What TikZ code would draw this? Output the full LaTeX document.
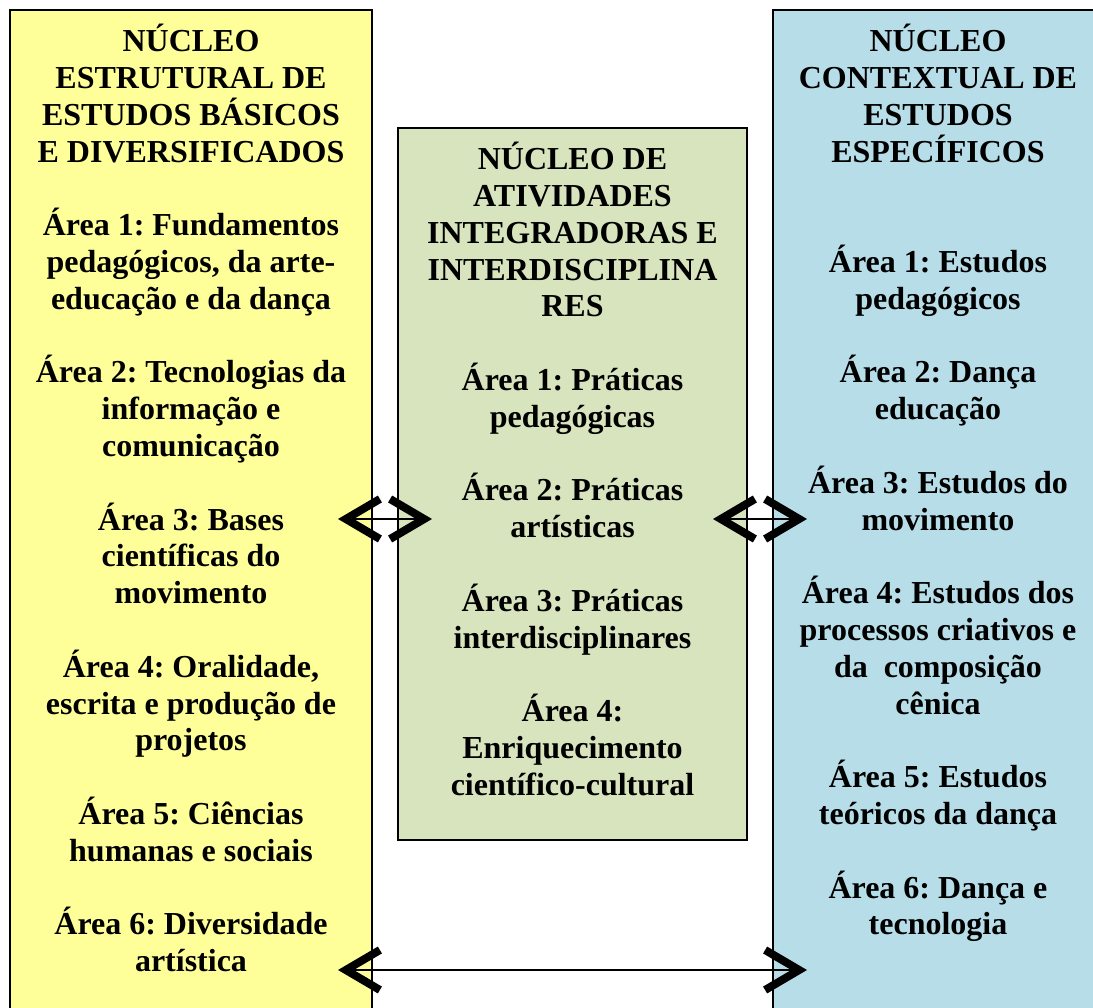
\documentclass[tikz,border=0pt]{standalone}
\usepackage{fontspec}
\setmainfont{Liberation Serif}
\usepackage{tikz}
\usetikzlibrary{arrows.meta,positioning}
\frenchspacing
\definecolor{amarelo}{HTML}{FFFF99}
\definecolor{verde}{HTML}{D7E4BD}
\definecolor{azul}{HTML}{B7DEE8}
\tikzstyle{line} = [draw, line width=1.5pt, {Straight Barb[length=34pt, width=40pt, line width=8pt]}-{Straight Barb[length=34pt, width=40pt, line width=8pt]}, shorten <=-34pt, shorten >=-34pt]
\tikzstyle{nuc_est} = [rectangle, draw, line width=1.5pt, fill=amarelo, minimum width=362pt, minimum height=1030pt, outer sep=0pt, inner sep=0pt]
\tikzstyle{nuc_int} = [rectangle, draw, line width=1.5pt, fill=verde, minimum width=349pt, minimum height=712pt, outer sep=0pt, inner sep=0pt]
\tikzstyle{nuc_ctx} = [rectangle, draw, line width=1.5pt, fill=azul, minimum width=330pt, minimum height=1030pt, outer sep=0pt, inner sep=0pt]
\tikzstyle{txt} = [align=center, inner sep=0pt, anchor=north, font=\fontsize{32}{36.8}\selectfont\bfseries]

\begin{document}
\begin{tikzpicture}[x=1pt, y=-1pt]
		\useasboundingbox (0,0) rectangle (1093,1008);
		\clip (0,0) rectangle (1093,1008);

		\node[nuc_est, anchor=north west] (nucleoEstrutural) at (10,10) {};
		\node[nuc_int, below right=118pt and 26pt of nucleoEstrutural.north east] (nucleoIntegrador) {};
		\node[nuc_ctx, right=401pt of nucleoEstrutural.north east, anchor=north west] (nucleoContextual) {};

		\node[txt] (textoEstrutural) at ([yshift=-14pt]nucleoEstrutural.north) {N\'UCLEO\\ESTRUTURAL DE\\ESTUDOS B\'ASICOS\\E DIVERSIFICADOS\\[36.8pt]
			\'Area 1: Fundamentos\\pedag\'ogicos, da arte-\\educa\c{c}\~ao e da dan\c{c}a\\[36.8pt]
			\'Area 2: Tecnologias da\\informa\c{c}\~ao e\\comunica\c{c}\~ao\\[36.8pt]
			\'Area 3: Bases\\cient\'ificas do\\movimento\\[36.8pt]
			\'Area 4: Oralidade,\\escrita e produ\c{c}\~ao de\\projetos\\[36.8pt]
			\'Area 5: Ci\^encias\\humanas e sociais\\[36.8pt]
			\'Area 6: Diversidade\\art\'istica};

		\node[txt] (textoIntegrador) at ([yshift=-14pt]nucleoIntegrador.north) {N\'UCLEO DE\\ATIVIDADES\\INTEGRADORAS E\\INTERDISCIPLINA\\RES\\[36.8pt]
			\'Area 1: Pr\'aticas\\pedag\'ogicas\\[36.8pt]
			\'Area 2: Pr\'aticas\\art\'isticas\\[36.8pt]
			\'Area 3: Pr\'aticas\\interdisciplinares\\[36.8pt]
			\'Area 4:\\Enriquecimento\\cient\'ifico-cultural};

		\node[txt] (textoContextual) at ([yshift=-14pt]nucleoContextual.north) {N\'UCLEO\\CONTEXTUAL DE\\ESTUDOS\\ESPEC\'IFICOS\\[73.6pt]
			\'Area 1: Estudos\\pedag\'ogicos\\[36.8pt]
			\'Area 2: Dan\c{c}a\\educa\c{c}\~ao\\[36.8pt]
			\'Area 3: Estudos do\\movimento\\[36.8pt]
			\'Area 4: Estudos dos\\processos criativos e\\da \ composi\c{c}\~ao\\c\^enica\\[36.8pt]
			\'Area 5: Estudos\\te\'oricos da dan\c{c}a\\[36.8pt]
			\'Area 6: Dan\c{c}a e\\tecnologia};

		\coordinate (meio) at (0,519);
		\coordinate (base) at (0,970);
		\path [line] (nucleoEstrutural.east |- meio) to (nucleoIntegrador.west |- meio);
		\path [line] (nucleoIntegrador.east |- meio) to (nucleoContextual.west |- meio);
		\path [line] (nucleoEstrutural.east |- base) to (nucleoContextual.west |- base);
	\end{tikzpicture}
\end{document}
